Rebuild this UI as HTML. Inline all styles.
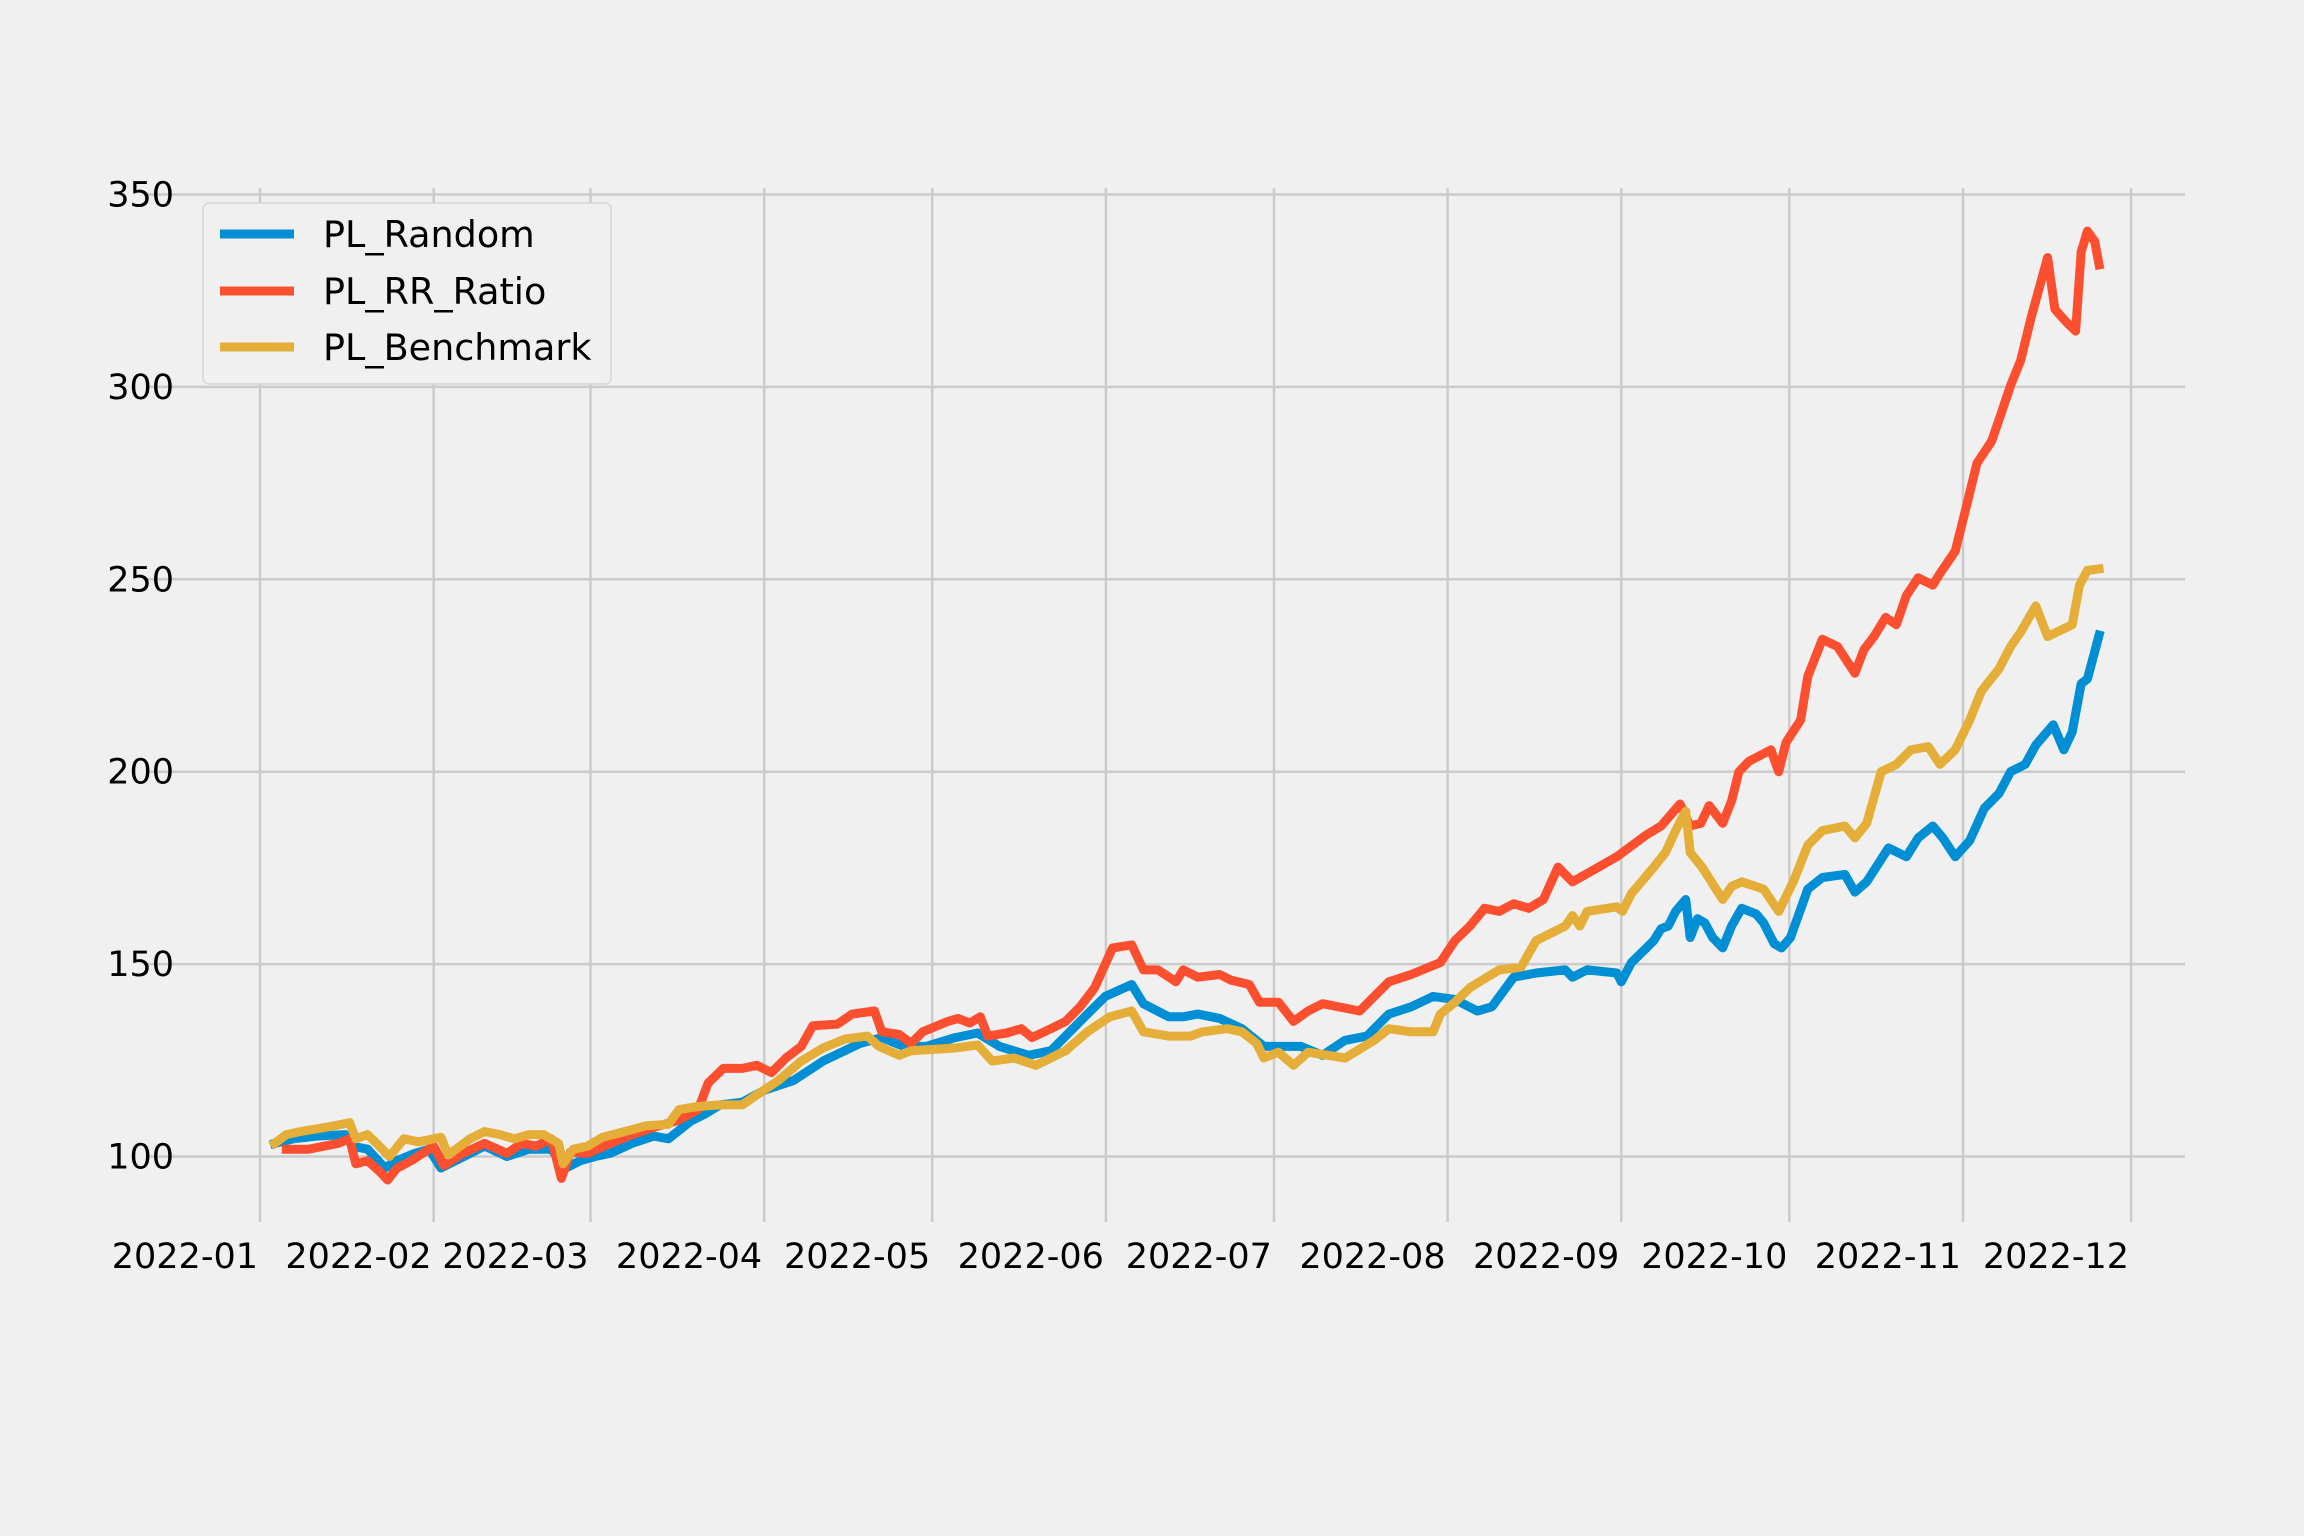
<!DOCTYPE html>
<html><head><meta charset="utf-8">
<style>
html,body{margin:0;padding:0;background:#f0f0f0;}
svg{display:block;font-family:"DejaVu Sans","Liberation Sans",sans-serif;}
</style></head>
<body>
<svg id="chart" width="2304" height="1536" viewBox="0 0 2304 1536" xmlns="http://www.w3.org/2000/svg">
<rect width="2304" height="1536" fill="#f0f0f0"/>
<g id="grid"></g>
<g id="ticks"></g>
<g id="series"></g>
<g id="legend">
  <rect x="203" y="203" width="408" height="181" rx="6" fill="#f0f0f0" stroke="#d6d6d6" stroke-width="1.5"/>
  <line x1="220" y1="234" x2="294" y2="234" stroke="#008fd5" stroke-width="9"/>
  <text x="323" y="247" font-size="36.5" fill="#000">PL_Random</text>
  <line x1="220" y1="291" x2="294" y2="291" stroke="#fc4f30" stroke-width="9"/>
  <text x="323" y="304" font-size="36.5" fill="#000">PL_RR_Ratio</text>
  <line x1="220" y1="347" x2="294" y2="347" stroke="#e5ae38" stroke-width="9"/>
  <text x="323" y="360" font-size="36.5" fill="#000">PL_Benchmark</text>
</g>
</svg>
<script>
// Data (days since 2022-01-01, values)
const yTicks = [100,150,200,250,300,350];
const xTickLabels = ["2022-01","2022-02","2022-03","2022-04","2022-05","2022-06","2022-07","2022-08","2022-09","2022-10","2022-11","2022-12"];
const xTickDays = [0,31,59,90,120,151,181,212,243,273,304,334];

const randomDays = [2.6,6.0,10.0,15.2,16.5,19.2,22.3,24.4,27.6,30.2,32.3,34.9,40.1,44.1,48.0,52.0,54.6,57.2,59.8,62.5,66.4,70.3,72.9,76.9,79.5,82.1,86.1,90.0,95.3,100.5,104.4,107.1,111.0,114.9,118.9,124.1,128.1,132.0,137.2,141.2,143.8,147.7,150.9,155.6,157.7,162.2,164.8,167.4,171.3,175.3,179.2,181.8,185.8,189.7,193.7,197.6,201.5,205.5,209.4,213.3,217.3,219.9,223.8,227.8,233.0,234.3,236.9,242.2,243.0,244.8,247.5,248.8,250.1,251.4,252.7,254.5,255.3,256.6,257.9,259.3,261.1,262.7,264.5,267.1,268.4,270.3,271.6,273.2,276.3,278.9,282.9,284.7,286.8,290.7,293.9,296.0,298.6,300.4,302.6,305.2,307.8,310.4,312.5,315.1,317.0,320.1,322.0,323.5,325.1,326.2,328.3];
const randomVals = [103.4,104.6,105.3,105.7,102.7,101.9,97.0,98.9,100.8,101.9,97.0,98.9,102.7,100,101.9,101.9,97.0,98.9,100,100.8,103.4,105.3,104.6,109.2,111.1,113.4,114.1,117.2,119.8,124.8,127.5,129.4,130.9,128.6,128.6,130.9,132.1,128.6,126.3,127.5,131.3,137.0,141.6,144.7,139.7,136.3,136.3,137.0,135.9,133.2,128.6,128.6,128.6,126.3,130.2,131.3,137.0,138.9,141.6,140.8,137.8,138.9,146.6,147.7,148.5,146.6,148.5,147.7,145.4,150.4,154.2,156.1,159.2,159.9,163.7,166.8,156.9,161.8,160.7,156.9,154.2,159.9,164.5,163.0,160.7,155.3,154.2,156.9,169.5,172.5,173.3,168.7,171.4,180.2,177.9,182.8,185.9,182.8,177.9,182.1,190.5,194.3,200.0,201.9,206.9,212.2,205.7,210.3,222.9,224.1,235.5];

const rrDays = [4.7,8.7,13.9,16.0,17.1,19.2,21.3,22.8,24.4,27.0,31.0,32.8,36.2,40.1,44.1,46.7,49.3,52.0,53.8,55.4,58.5,62.5,66.4,70.3,74.3,78.2,80.0,82.7,86.1,88.7,91.3,93.9,96.6,98.7,103.1,105.7,109.7,111.0,114.1,116.2,118.3,122.8,124.6,126.7,128.6,129.9,133.3,135.9,137.8,141.2,143.8,146.4,149.0,152.2,155.6,157.7,160.3,163.5,164.8,167.4,171.3,173.4,176.6,178.4,181.8,184.5,187.1,189.7,196.3,198.9,201.5,205.5,210.7,213.3,216.0,218.6,221.2,223.8,226.5,229.1,231.7,234.3,237.5,242.2,247.5,250.1,253.5,255.3,257.2,258.7,261.1,262.7,264.0,265.8,269.7,271.1,272.4,275.0,276.3,278.9,281.6,284.7,286.3,288.1,290.2,292.1,293.9,296.0,298.6,299.9,302.6,304.1,306.5,309.1,310.9,312.5,314.3,316.2,319.1,320.4,322.2,324.1,325.1,326.2,327.5,328.3];
const rrVals = [101.9,101.9,103.4,104.6,98.1,98.9,96.2,93.9,96.9,98.9,102.7,97.7,100.8,103.4,100.8,103.4,102.7,104.6,94.3,101.1,100.8,103.4,105.7,107.6,109.2,112.2,119.1,122.9,122.9,123.7,121.8,125.6,128.6,134.0,134.4,137.0,137.8,132.4,131.7,129.4,132.4,135.1,135.9,134.7,136.3,131.3,132.1,133.2,130.9,133.2,135.1,138.9,143.9,154.2,155.0,148.5,148.5,145.4,148.5,146.6,147.3,145.8,144.7,140.1,140.1,135.1,137.8,139.7,137.8,141.6,145.4,147.3,150.4,156.1,159.9,164.5,163.7,165.7,164.5,166.8,175.2,171.4,174.0,177.9,183.6,185.9,191.6,185.9,186.6,191.2,186.6,192.4,200.0,202.7,205.7,200.0,207.6,213.4,224.8,234.4,232.5,225.6,231.7,235.1,240.1,238.2,245.8,250.4,248.5,251.5,257.3,266.0,280.2,285.9,293.5,300.4,306.9,318.3,333.6,320.2,317.2,314.5,335.1,340.5,337.8,331.7];

const benchDays = [2.6,4.7,7.3,13.4,16.0,17.1,19.2,21.3,23.1,25.7,28.3,32.3,33.6,37.5,40.1,42.8,45.4,48.0,50.6,53.3,54.1,55.9,58.5,61.1,65.1,69.0,72.9,74.8,78.2,82.1,86.1,88.7,92.6,96.6,100.5,104.4,108.4,110.5,114.1,116.2,124.1,128.1,130.7,134.6,138.5,143.8,147.7,151.7,155.6,157.7,162.2,166.1,168.2,172.7,175.3,177.9,179.2,181.8,184.5,187.1,193.7,198.9,201.5,205.5,209.4,210.7,213.3,216.0,218.6,221.2,225.1,227.8,233.0,234.3,235.6,236.9,242.2,243.2,244.8,248.8,250.9,252.7,254.5,255.3,257.4,261.1,262.7,264.5,268.4,271.1,273.7,276.3,278.9,282.9,284.7,286.8,289.4,292.1,294.7,297.8,299.9,302.6,305.2,307.3,310.4,312.5,314.3,317.0,319.1,323.5,324.8,326.2,328.3];
const benchVals = [103.4,105.7,106.5,108.0,108.8,104.6,105.7,102.7,100.0,104.6,103.8,105.0,100.4,104.6,106.5,105.7,104.6,105.7,105.7,103.4,98.1,101.9,102.7,105.0,106.5,108.0,108.4,112.2,113.0,113.4,113.4,116.0,119.8,124.8,128.2,130.5,131.3,128.6,126.3,127.5,128.2,129.0,124.8,125.6,123.7,127.5,132.4,136.3,137.8,132.4,131.3,131.3,132.4,133.2,132.4,129.4,125.6,127.1,123.7,127.1,125.6,130.2,133.2,132.4,132.4,137.0,140.1,143.9,146.2,148.5,149.2,156.1,159.9,162.6,159.9,163.7,164.9,163.7,168.3,175.2,179.0,184.7,189.7,179.0,175.2,166.8,170.2,171.4,169.5,163.7,171.4,180.9,184.7,185.9,182.8,186.6,200.0,201.9,205.7,206.5,201.9,205.7,213.4,221.0,226.7,232.5,236.3,243.1,235.1,238.2,248.5,252.3,252.7];

const NS = "http://www.w3.org/2000/svg";
const X0 = 260, PXDAY = 5.602, Y100 = 1156.5, PXUNIT = 3.848;
const AX_L = 147, AX_R = 2185, AX_T = 188, AX_B = 1222;
function xs(d){ return X0 + d * PXDAY; }
function ys(v){ return Y100 - (v - 100) * PXUNIT; }

const grid = document.getElementById('grid');
const ticks = document.getElementById('ticks');
yTicks.forEach(t => {
  const l = document.createElementNS(NS, 'line');
  l.setAttribute('x1', AX_L); l.setAttribute('x2', AX_R);
  l.setAttribute('y1', ys(t)); l.setAttribute('y2', ys(t));
  l.setAttribute('stroke', '#cbcbcb'); l.setAttribute('stroke-width', '2.5');
  
  
  grid.appendChild(l);
  const tx = document.createElementNS(NS, 'text');
  tx.setAttribute('x', 174); tx.setAttribute('y', ys(t) + 12);
  tx.setAttribute('text-anchor', 'end'); tx.setAttribute('font-size', '35');
  tx.textContent = t;
  
  
  ticks.appendChild(tx);
});
xTickDays.forEach((d, i) => {
  const l = document.createElementNS(NS, 'line');
  l.setAttribute('x1', xs(d)); l.setAttribute('x2', xs(d));
  l.setAttribute('y1', AX_T); l.setAttribute('y2', AX_B);
  l.setAttribute('stroke', '#cbcbcb'); l.setAttribute('stroke-width', '2.5');
  
  
  grid.appendChild(l);
  const tx = document.createElementNS(NS, 'text');
  tx.setAttribute('x', xs(d) - 2); tx.setAttribute('y', 1268);
  tx.setAttribute('text-anchor', 'end'); tx.setAttribute('font-size', '35');
  tx.textContent = xTickLabels[i];
  
  
  ticks.appendChild(tx);
});

const series = document.getElementById('series');
function drawLine(days, vals, color, name){
  const p = document.createElementNS(NS, 'polyline');
  p.setAttribute('points', days.map((d,i)=> xs(d).toFixed(1)+','+ys(vals[i]).toFixed(1)).join(' '));
  p.setAttribute('fill', 'none'); p.setAttribute('stroke', color);
  p.setAttribute('stroke-width', '9'); p.setAttribute('stroke-linejoin', 'round');
  p.setAttribute('stroke-linecap', 'square');
  
  
  series.appendChild(p);
}
drawLine(randomDays, randomVals, '#008fd5', 'line-pl-random');
drawLine(rrDays, rrVals, '#fc4f30', 'line-pl-rr-ratio');
drawLine(benchDays, benchVals, '#e5ae38', 'line-pl-benchmark');
</script>
</body></html>
